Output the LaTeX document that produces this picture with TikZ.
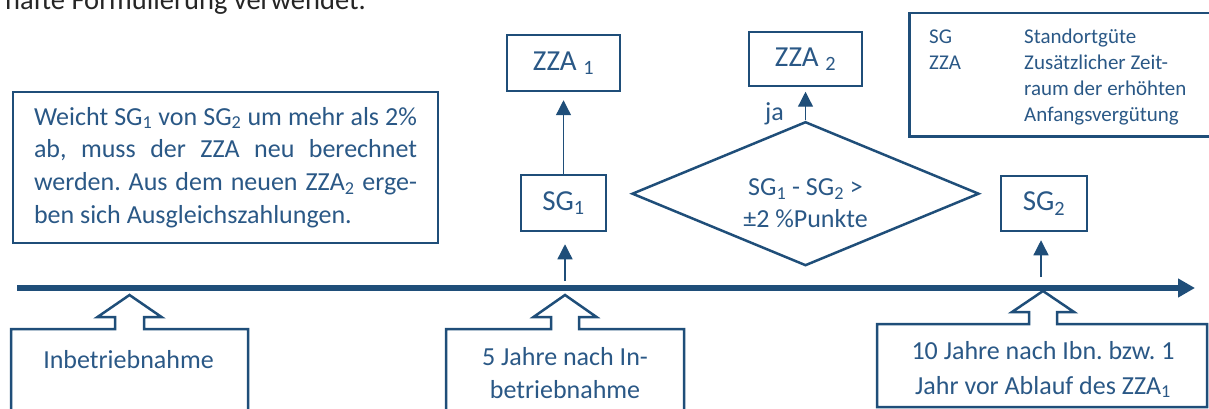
\documentclass[tikz,border=0pt]{standalone}
\usepackage{fontspec}
\setmainfont{Carlito}
\usetikzlibrary{arrows.meta,shapes.geometric}
\definecolor{dblue}{HTML}{1F4E79}
\definecolor{tblue}{HTML}{2A5886}
\definecolor{dgray}{HTML}{262626}
\newcommand\mainfs{\fontsize{26}{32.7}\selectfont}
\newcommand\legfs{\fontsize{21}{26}\selectfont}
\newcommand\upcall[9]{%
  \path[callout] (#1,#4) -- (#1,#3) -- ({#5-#6},#3) -- ({#5-#6},#8) -- ({#5-#7},#8) -- (#5,#9)
    -- ({#5+#7},#8) -- ({#5+#6},#8) -- ({#5+#6},#3) -- (#2,#3) -- (#2,#4) -- cycle;}
\tikzset{
  box/.style={draw=dblue, line width=2.5pt, fill=white, inner sep=0pt, text=tblue, font=\mainfs},
  flowbox/.style={box, font=\fontsize{29}{35}\selectfont},
  flow/.style={draw=dblue, line width=1.3pt, -{Triangle[length=15pt,width=15pt]}},
  lbl/.style={text=tblue, font=\mainfs, inner sep=0pt},
  callout/.style={draw=dblue, line width=2.5pt, fill=white, line join=miter},
  timeline/.style={draw=dblue, line width=6pt, -{Triangle[length=17pt,width=18pt]}},
}
\begin{document}
\frenchspacing
\begin{tikzpicture}[x=1pt,y=-1pt]
\useasboundingbox (0,0) rectangle (1209,409);
\clip (0,0) rectangle (1209,409);

% top text (page fragment, cut off as in the reference)
\node[anchor=base west, inner sep=0pt, text=dgray, font=\fontsize{28.5}{34}\selectfont] (toptext) at (5,10) {hafte Formulierung verwendet.};

% explanatory box
\node[box, minimum width=425pt, minimum height=151pt, align=left] (note) at (225.5,167.5)
  {\makebox[383pt][s]{Weicht SG\textsubscript{1} von SG\textsubscript{2} um mehr als 2\%}\\
   \makebox[383pt][s]{ab, muss der ZZA neu berechnet}\\
   \makebox[383pt][s]{werden. Aus dem neuen ZZA\textsubscript{2} erge-}\\
   \makebox[383pt][l]{ben sich Ausgleichszahlungen.}};

% flow boxes
\node[flowbox, minimum width=113pt, minimum height=56pt] (zza1) at (563.5,63) {ZZA \textsubscript{1}};
\node[flowbox, minimum width=85pt, minimum height=56pt] (sg1) at (563.5,203) {SG\textsubscript{1}};
\node[flowbox, minimum width=113pt, minimum height=54pt] (zza2) at (805.5,59) {ZZA \textsubscript{2}};
\node[flowbox, minimum width=86pt, minimum height=55pt] (sg2) at (1044,203.5) {SG\textsubscript{2}};
\node[draw=dblue, line width=2.5pt, diamond, minimum width=347pt, minimum height=144pt, inner sep=0pt] (dia) at (805.5,193.7) {};
\node[lbl, align=center, font=\fontsize{26}{31.5}\selectfont] (diatext) at (805.5,203)
  {SG\textsubscript{1} - SG\textsubscript{2} >\\ ±2 \%Punkte};
\node[lbl, anchor=base west] (ja) at (765,121) {ja};

% legend
\node[draw=dblue, line width=2.5pt, minimum width=310pt, minimum height=123pt, anchor=north west, inner sep=0pt] (legend) at (908,12) {};
\node[lbl, font=\legfs, anchor=north west] (legtext) at (929,25.1)
  {\begin{tabular}{@{}p{95pt}@{}l@{}}SG & Standortgüte\\ ZZA & Zusätzlicher Zeit-\\ & raum der erhöhten\\ & Anfangsvergütung\end{tabular}};

% timeline
\coordinate (tl0) at (17,288);
\coordinate (tl1) at (1195,288);
\draw[timeline] (tl0) -- (tl1);

% connectors
\draw[flow, shorten >=8pt] (sg1.north) -- (zza1.south);
\draw[flow, shorten >=4.5pt] (dia.north) -- (zza2.south);
\coordinate (p1) at (565,281);
\draw[flow, shorten >=12pt] (p1) -- (p1 |- sg1.south);
\coordinate (p2) at (1041,277);
\draw[flow, shorten >=8pt] (p2) -- (p2 |- sg2.south);

% callouts
\upcall{11}{248}{329}{420}{129.5}{14.5}{32}{317}{295}
\upcall{446}{684}{329}{420}{565}{14}{31.5}{317}{295}
\upcall{877}{1207}{324}{407}{1043}{14}{31}{312}{291}
\node[lbl, anchor=base] (c1) at (128.5,368) {Inbetriebnahme};
\node[lbl, align=center, anchor=base, font=\fontsize{26}{33}\selectfont] (c2) at (565,398.3) {5 Jahre nach In-\\betriebnahme};
\node[lbl, align=center, anchor=base, font=\fontsize{26}{34.7}\selectfont] (c3) at (1043,394) {10 Jahre nach Ibn. bzw. 1\\Jahr vor Ablauf des ZZA\textsubscript{1}};
\end{tikzpicture}
\end{document}
